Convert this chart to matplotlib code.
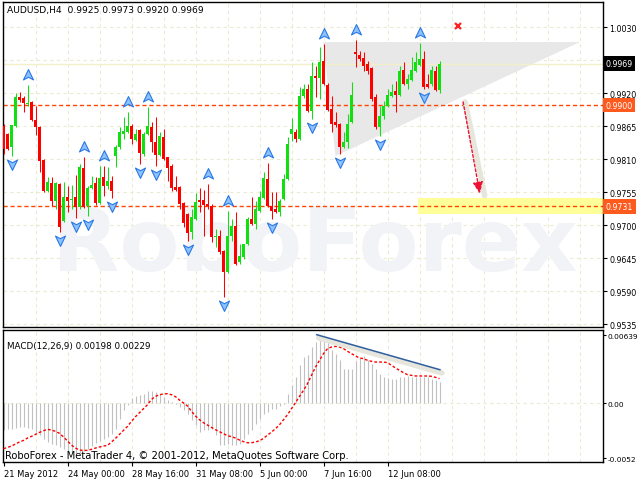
import numpy as np
import matplotlib.pyplot as plt
import matplotlib.transforms as mtransforms
from matplotlib.path import Path
from matplotlib.patches import Polygon, Rectangle

# ---------------- data ----------------
title_text = "AUDUSD,H4  0.9925 0.9973 0.9920 0.9969"
macd_text = "MACD(12,26,9) 0.00198 0.00229"
footer_text = "RoboForex - MetaTrader 4, \u00a9 2001-2012, MetaQuotes Software Corp."

opens = [
    0.9865, 0.9852, 0.9830, 0.9865, 0.9913, 0.9912, 0.9902, 0.9905, 0.9875, 0.9863,
    0.9808, 0.9757, 0.9770, 0.9740, 0.9768, 0.9707, 0.9747, 0.9742, 0.9747, 0.9730,
    0.9795, 0.9732, 0.9762, 0.9770, 0.9737, 0.9780, 0.9765, 0.9773, 0.9815, 0.9830,
    0.9852, 0.9855, 0.9865, 0.9842, 0.9858, 0.9818, 0.9852, 0.9863, 0.9838, 0.9817,
    0.9847, 0.9813, 0.9798, 0.9763, 0.9763, 0.9737, 0.9718, 0.9688, 0.9710, 0.9742,
    0.9742, 0.9735, 0.9732, 0.9680, 0.9682, 0.9657, 0.9622, 0.9682, 0.9698, 0.9638,
    0.9647, 0.9668, 0.9710, 0.9702, 0.9723, 0.9745, 0.9777, 0.9732, 0.9727, 0.9722,
    0.9743, 0.9777, 0.9852, 0.9855, 0.9843, 0.9915, 0.9927, 0.9890, 0.9948, 0.9945,
    0.9973, 0.9933, 0.9893, 0.9872, 0.9868, 0.9830, 0.9838, 0.9872, 0.9988, 0.9983,
    0.9978, 0.9968, 0.9962, 0.9913, 0.9863, 0.9882, 0.9898, 0.9915, 0.9923, 0.9917,
    0.9958, 0.9935, 0.9942, 0.9957, 0.9967, 0.9977, 0.9935, 0.9935, 0.9957, 0.9925,
]
highs = [
    0.9868, 0.9853, 0.9867, 0.9920, 0.9922, 0.9915, 0.9933, 0.9907, 0.9898, 0.9865,
    0.9810, 0.9780, 0.9780, 0.9772, 0.9770, 0.9772, 0.9765, 0.9767, 0.9783, 0.9802,
    0.9813, 0.9765, 0.9782, 0.9780, 0.9798, 0.9798, 0.9797, 0.9782, 0.9833, 0.9863,
    0.9880, 0.9888, 0.9868, 0.9860, 0.9860, 0.9855, 0.9897, 0.9872, 0.9880, 0.9855,
    0.9860, 0.9813, 0.9802, 0.9782, 0.9765, 0.9738, 0.9720, 0.9727, 0.9753, 0.9762,
    0.9758, 0.9768, 0.9735, 0.9693, 0.9692, 0.9658, 0.9723, 0.9710, 0.9722, 0.9668,
    0.9668, 0.9713, 0.9747, 0.9740, 0.9757, 0.9788, 0.9803, 0.9755, 0.9755, 0.9743,
    0.9785, 0.9847, 0.9878, 0.9860, 0.9930, 0.9935, 0.9935, 0.9972, 0.9965, 0.9997,
    1.0002, 0.9937, 0.9915, 0.9888, 0.9870, 0.9855, 0.9885, 0.9938, 1.0008, 0.9990,
    0.9988, 0.9973, 0.9963, 0.9918, 0.9898, 0.9907, 0.9927, 0.9935, 0.9940, 0.9965,
    0.9972, 0.9952, 0.9980, 0.9988, 1.0003, 0.9990, 0.9952, 0.9965, 0.9965, 0.9973,
]
lows = [
    0.9818, 0.9825, 0.9815, 0.9863, 0.9905, 0.9888, 0.9898, 0.9873, 0.9850, 0.9788,
    0.9755, 0.9755, 0.9732, 0.9727, 0.9688, 0.9705, 0.9722, 0.9727, 0.9712, 0.9727,
    0.9728, 0.9715, 0.9760, 0.9733, 0.9735, 0.9748, 0.9760, 0.9745, 0.9797, 0.9827,
    0.9843, 0.9853, 0.9835, 0.9840, 0.9802, 0.9815, 0.9850, 0.9822, 0.9798, 0.9815,
    0.9808, 0.9773, 0.9757, 0.9757, 0.9727, 0.9697, 0.9673, 0.9677, 0.9708, 0.9722,
    0.9682, 0.9727, 0.9672, 0.9663, 0.9652, 0.9580, 0.9620, 0.9673, 0.9633, 0.9635,
    0.9643, 0.9667, 0.9700, 0.9693, 0.9722, 0.9743, 0.9730, 0.9710, 0.9720, 0.9715,
    0.9742, 0.9775, 0.9840, 0.9838, 0.9842, 0.9912, 0.9888, 0.9877, 0.9913, 0.9910,
    0.9933, 0.9890, 0.9855, 0.9863, 0.9818, 0.9828, 0.9828, 0.9870, 0.9963, 0.9973,
    0.9957, 0.9952, 0.9907, 0.9860, 0.9848, 0.9877, 0.9897, 0.9913, 0.9888, 0.9915,
    0.9933, 0.9927, 0.9940, 0.9955, 0.9965, 0.9927, 0.9928, 0.9932, 0.9923, 0.9920,
]
closes = [
    0.9827, 0.9827, 0.9867, 0.9913, 0.9908, 0.9903, 0.9903, 0.9875, 0.9863, 0.9807,
    0.9757, 0.9772, 0.9740, 0.9770, 0.9697, 0.9747, 0.9740, 0.9743, 0.9730, 0.9797,
    0.9730, 0.9762, 0.9767, 0.9737, 0.9778, 0.9765, 0.9773, 0.9757, 0.9830, 0.9855,
    0.9857, 0.9865, 0.9843, 0.9852, 0.9820, 0.9852, 0.9865, 0.9838, 0.9817, 0.9848,
    0.9810, 0.9795, 0.9762, 0.9758, 0.9735, 0.9703, 0.9687, 0.9713, 0.9738, 0.9738,
    0.9733, 0.9732, 0.9680, 0.9682, 0.9655, 0.9622, 0.9682, 0.9698, 0.9635, 0.9648,
    0.9668, 0.9710, 0.9702, 0.9727, 0.9747, 0.9778, 0.9732, 0.9723, 0.9722, 0.9740,
    0.9777, 0.9835, 0.9860, 0.9843, 0.9915, 0.9927, 0.9890, 0.9948, 0.9945, 0.9972,
    0.9935, 0.9892, 0.9868, 0.9867, 0.9830, 0.9838, 0.9868, 0.9917, 0.9985, 0.9977,
    0.9965, 0.9957, 0.9910, 0.9863, 0.9882, 0.9898, 0.9917, 0.9922, 0.9917, 0.9957,
    0.9935, 0.9943, 0.9958, 0.9972, 0.9977, 0.9930, 0.9930, 0.9958, 0.9925, 0.9969,
]

macd_main = [
    -0.00257, -0.00247, -0.00241, -0.00235, -0.00226, -0.00226, -0.00235, -0.00247, -0.00273, -0.00304,
    -0.00335, -0.00366, -0.00382, -0.00398, -0.00413, -0.00429, -0.00454, -0.00467, -0.00476, -0.00467,
    -0.00454, -0.00429, -0.00404, -0.00373, -0.00360, -0.00335, -0.00319, -0.00288, -0.00241, -0.00147,
    -0.00069, -0.00016, 0.00050, 0.00066, 0.00072, 0.00088, 0.00110, 0.00113, 0.00103, 0.00088,
    0.00056, 0.00025, 0.00009, -0.00006, -0.00038, -0.00069, -0.00100, -0.00163, -0.00210, -0.00273,
    -0.00257, -0.00257, -0.00241, -0.00304, -0.00398, -0.00398, -0.00382, -0.00398, -0.00398, -0.00382,
    -0.00335, -0.00288, -0.00257, -0.00194, -0.00147, -0.00100, -0.00085, -0.00053, -0.00053, -0.00028,
    -0.00006, 0.00088, 0.00166, 0.00244, 0.00354, 0.00432, 0.00448, 0.00526, 0.00573, 0.00626,
    0.00611, 0.00579, 0.00495, 0.00464, 0.00401, 0.00323, 0.00323, 0.00323, 0.00392, 0.00423,
    0.00442, 0.00407, 0.00370, 0.00323, 0.00276, 0.00244, 0.00238, 0.00229, 0.00229, 0.00244,
    0.00244, 0.00254, 0.00244, 0.00244, 0.00244, 0.00244, 0.00244, 0.00229, 0.00213, 0.00198,
]
macd_signal = [
    -0.00429, -0.00417, -0.00404, -0.00385, -0.00366, -0.00351, -0.00329, -0.00313, -0.00294, -0.00276,
    -0.00260, -0.00247, -0.00254, -0.00266, -0.00285, -0.00319, -0.00357, -0.00395, -0.00423, -0.00442,
    -0.00445, -0.00445, -0.00435, -0.00423, -0.00413, -0.00404, -0.00398, -0.00366, -0.00332, -0.00294,
    -0.00257, -0.00219, -0.00172, -0.00128, -0.00091, -0.00053, -0.00016, 0.00034, 0.00063, 0.00078,
    0.00085, 0.00088, 0.00078, 0.00060, 0.00028, 0.00000, -0.00028, -0.00078, -0.00122, -0.00157,
    -0.00185, -0.00207, -0.00229, -0.00251, -0.00269, -0.00288, -0.00307, -0.00316, -0.00329, -0.00348,
    -0.00363, -0.00373, -0.00373, -0.00366, -0.00354, -0.00332, -0.00301, -0.00273, -0.00241, -0.00204,
    -0.00157, -0.00110, -0.00053, 0.00003, 0.00063, 0.00119, 0.00182, 0.00260, 0.00338, 0.00401,
    0.00464, 0.00511, 0.00526, 0.00532, 0.00526, 0.00511, 0.00486, 0.00464, 0.00442, 0.00423,
    0.00417, 0.00401, 0.00392, 0.00385, 0.00385, 0.00385, 0.00379, 0.00354, 0.00329, 0.00307,
    0.00285, 0.00266, 0.00260, 0.00254, 0.00254, 0.00254, 0.00254, 0.00251, 0.00241, 0.00229,
]

fractal_up_bars = [6, 20, 25, 31, 36, 51, 56, 66, 80, 88, 104]
fractal_down_bars = [2, 14, 18, 21, 27, 34, 38, 46, 55, 67, 77, 84, 94, 105]

price_ticks = [1.0030, 0.9975, 0.9920, 0.9865, 0.9810, 0.9755, 0.9700, 0.9645, 0.9590, 0.9535]
price_tick_labels = ["1.0030", "", "0.9920", "0.9865", "0.9810", "0.9755", "0.9700",
                     "0.9645", "0.9590", "0.9535"]
macd_ticks = [0.00639, 0.0, -0.0052]
macd_tick_labels = ["0.00639", "0.00", "-0.0052"]
time_bars = [0, 16, 32, 48, 64, 80, 96]
time_labels = ["21 May 2012", "24 May 00:00", "28 May 16:00", "31 May 08:00",
               "5 Jun 00:00", "7 Jun 16:00", "12 Jun 08:00"]

bid_price = 0.9969
support_level = 0.9900
target_level = 0.9731
target_zone = (0.97183, 0.97450, 103.6)           # low, high, start bar
triangle = [(79.9, 1.0005), (144.1, 1.0005), (83.0, 0.9815)]
forecast_arrow = [(114.9, 0.9905), (119.1, 0.9752)]
cross_mark = (113.6, 1.0032)
macd_trend = [(78.3, 0.00642), (109.1, 0.00313)]

# ---------------- figure ----------------
W, H = 640, 481
fig = plt.figure(figsize=(W / 100, H / 100), dpi=100)
ax = fig.add_axes([3 / W, 1 - 328 / H, 600 / W, 325 / H])
mx = fig.add_axes([3 / W, 1 - 463 / H, 600 / W, 132 / H])

xlim = (-0.125, 149.875)
grid_kw = dict(color="#ecebd2", lw=0.8, ls=(0, (3, 3)), zorder=0)
tick_font = dict(family="DejaVu Sans", size=5.7)

o = np.array(opens)
h = np.array(highs)
l = np.array(lows)
c = np.array(closes)
x = np.arange(len(o))
bull = c >= o
cols = np.where(bull, "#10e010", "#ff0000")

# main panel
ax.set_xlim(*xlim)
ax.set_ylim(0.9530, 1.007167)
for p in price_ticks:
    ax.axhline(p, **grid_kw)
for b in range(8, 150, 8):
    ax.axvline(b, **grid_kw)
    mx.axvline(b, **grid_kw)

ax.text(0.52, 0.25, "RoboForex", transform=ax.transAxes, fontsize=63,
        fontweight="bold", color="#f2f3f7", ha="center", va="center", zorder=0.5)

ax.add_patch(Polygon(triangle, closed=True, fc="#e8e8e8", ec="none", zorder=1))
ax.add_patch(Rectangle((target_zone[2], target_zone[0]), xlim[1] - target_zone[2],
                       target_zone[1] - target_zone[0], fc="#ffff99", ec="none", zorder=1))

ax.axhline(bid_price, color="#f2f0c8", lw=1, zorder=1.5)
for lvl in (support_level, target_level):
    ax.axhline(lvl, color="#ff4500", lw=1, ls=(0, (3, 2)), zorder=2)

ax.vlines(x, l, h, colors=cols, lw=0.75, zorder=3)
body = np.maximum(np.abs(c - o), 0.00012)
ax.bar(x, body, bottom=np.minimum(o, c), width=0.75, color=cols, lw=0, zorder=4)

up_arrow = Path([(0, 1), (0.85, -0.75), (0, -0.3), (-0.85, -0.75), (0, 1)],
                [Path.MOVETO, Path.LINETO, Path.LINETO, Path.LINETO, Path.CLOSEPOLY])
down_arrow = Path([(0, -1), (0.85, 0.75), (0, 0.3), (-0.85, 0.75), (0, -1)],
                  [Path.MOVETO, Path.LINETO, Path.LINETO, Path.LINETO, Path.CLOSEPOLY])
ax.plot(fractal_up_bars, h[fractal_up_bars] + 0.00167, ls="none", marker=up_arrow,
        ms=8.5, mfc="#8cc2ff", mec="#2a78e4", mew=0.8, zorder=5)
ax.plot(fractal_down_bars, l[fractal_down_bars] - 0.00133, ls="none", marker=down_arrow,
        ms=8.5, mfc="#8cc2ff", mec="#2a78e4", mew=0.8, zorder=5)

ax.plot(*cross_mark, marker="x", ms=5, mew=1.6, color="#ff2020", zorder=5)

(ax0, ay0), (ax1, ay1) = forecast_arrow
ax.plot([ax0 + 0.5, ax1 + 1.2], [ay0, ay1 - 0.0003], color="#e6e6dc", lw=4,
        solid_capstyle="round", zorder=2.5)
ax.annotate("", xy=(ax1, ay1), xytext=(ax0, ay0), zorder=6,
            arrowprops=dict(arrowstyle="-|>,head_length=0.7,head_width=0.3",
                            color="#ee1133", lw=1, ls=(0, (2, 1.5)),
                            shrinkA=0, shrinkB=0))

ax.yaxis.tick_right()
ax.set_yticks(price_ticks)
ax.set_yticklabels(price_tick_labels, **tick_font)
ax.tick_params(axis="y", direction="out", length=3, width=0.8, pad=1.5)
ax.set_xticks([])

blend = mtransforms.blended_transform_factory(ax.transAxes, ax.transData)
ax.text(1.004, bid_price, f"{bid_price:.4f}", transform=blend, color="white",
        va="center", ha="left", zorder=10, clip_on=False,
        bbox=dict(boxstyle="square,pad=0.35", fc="black", ec="none"), **tick_font)
for lvl in (support_level, target_level):
    ax.text(1.004, lvl, f"{lvl:.4f}", transform=blend, color="white",
            va="center", ha="left", zorder=10, clip_on=False,
            bbox=dict(boxstyle="square,pad=0.35", fc="#ff5a1e", ec="none"), **tick_font)

# MACD panel
mx.set_xlim(*xlim)
mx.set_ylim(-0.00554, 0.00686)
mx.axhline(0, **grid_kw)
mx.vlines(x, 0, macd_main, colors="#c0c0c0", lw=0.8, zorder=2)
mx.plot(x, macd_signal, color="#ff0000", lw=1, ls=(0, (2, 1.5)), zorder=3)
(tx0, ty0), (tx1, ty1) = macd_trend
mx.plot([tx0 + 0.5, tx1 + 0.5], [ty0 - 0.0003, ty1 - 0.0003], color="#e6e6dc",
        lw=4, solid_capstyle="round", zorder=3.5)
mx.plot([tx0, tx1], [ty0, ty1], color="#2f5f9f", lw=1.1, zorder=4)

mx.yaxis.tick_right()
mx.set_yticks(macd_ticks)
mx.set_yticklabels(macd_tick_labels, family="DejaVu Sans", size=5.3)
mx.tick_params(axis="y", direction="out", length=2, width=0.8, pad=1)
mx.set_xticks(time_bars)
mx.set_xticklabels(time_labels, family="DejaVu Sans", size=6)
for t in mx.get_xticklabels():
    t.set_horizontalalignment("left")
mx.tick_params(axis="x", direction="out", length=3, width=0.8, pad=2)

for a in (ax, mx):
    for s in a.spines.values():
        s.set_color("black")
        s.set_linewidth(1)

fig.text(7 / W, 1 - 11 / H, title_text, family="DejaVu Sans", size=6.6,
         va="center", ha="left")
mx.text(0.007, 0.88, macd_text, transform=mx.transAxes, family="DejaVu Sans",
        size=6.3, va="center", ha="left", zorder=10)
mx.text(0.003, 0.055, footer_text, transform=mx.transAxes, family="DejaVu Sans",
        size=7.2, va="center", ha="left", zorder=10)

fig.savefig("out.png", dpi=100, facecolor="white")
